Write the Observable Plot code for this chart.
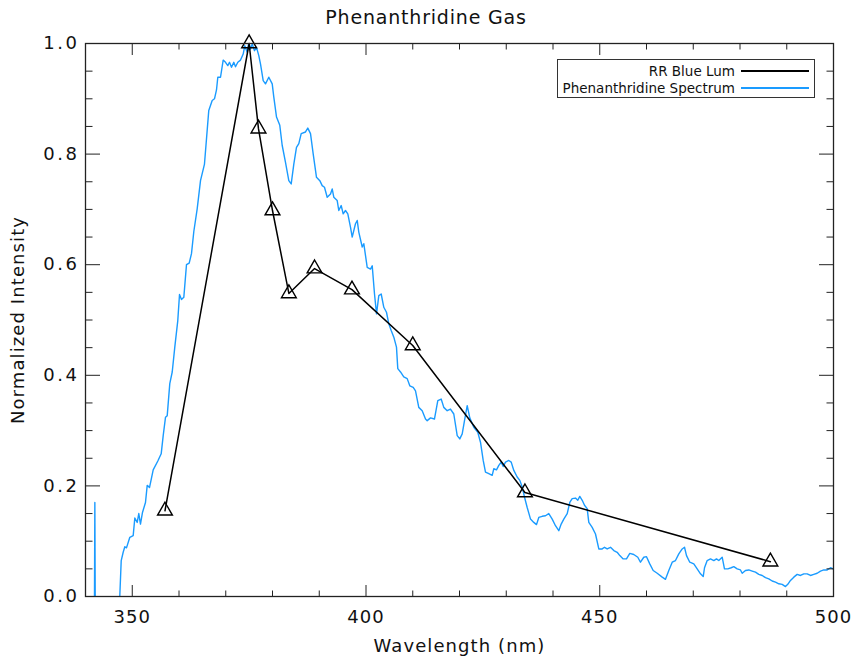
<!DOCTYPE html>
<html>
<head>
<meta charset="utf-8">
<script src="https://cdn.jsdelivr.net/npm/d3@7"></script>
<script src="https://cdn.jsdelivr.net/npm/@observablehq/plot@0.6"></script>
<style>
  body { margin: 0; background: #fff; }
  #wrap { position: relative; width: 852px; height: 656px; font-family: "DejaVu Sans", sans-serif; color: #111; }
  #title { position: absolute; left: 0; top: 6px; width: 852px; text-align: center; font-size: 19px; letter-spacing: 0.8px; }
  #legend { position: absolute; left: 557px; top: 59px; width: 258px; height: 39px; border: 1px solid #333; background: #fff; font-size: 13.5px; box-sizing: border-box; padding-top: 2px; }
  .row { display: flex; align-items: center; height: 17px; }
  .row .lab { width: 177px; text-align: right; white-space: nowrap; }
  .row .sw { margin-left: 6px; width: 68px; height: 0; border-top: 2px solid #000; }
  g[aria-label="x-axis tick label"] text { letter-spacing: 1px; }
  g[aria-label="y-axis tick label"] text { letter-spacing: 2.5px; }
  g[aria-label="x-axis label"] text, g[aria-label="y-axis label"] text { letter-spacing: 1.1px; }
</style>
</head>
<body>
<div id="wrap">
  <div id="chart"></div>
  <div id="title"></div>
  <div id="legend"></div>
</div>
<script>
const chartTitle = "Phenanthridine Gas";
const xLabel = "Wavelength (nm)";
const yLabel = "Normalized Intensity";
const seriesNames = ["RR Blue Lum", "Phenanthridine Spectrum"];
const seriesColors = ["#000000", "#1a9bff"];

// RR Blue Lum (triangles)
const lumWavelength = [357, 375, 377, 380, 383.5, 389, 397, 410, 434, 486.5];
const lumIntensity  = [0.155, 1.0, 0.846, 0.698, 0.548, 0.593, 0.555, 0.454, 0.188, 0.063];

// Phenanthridine spectrum
const specWavelength = [340, 341.9, 342.0, 342.1, 347.2,
  347.34, 347.64, 348.06, 348.41, 348.77, 349.48, 350.20, 350.55, 351.06, 351.40,
  351.76, 352.19, 352.83, 353.20, 353.69, 354.48, 355.47, 356.19, 356.62, 357.11,
  357.48, 358.03, 358.55, 359.10, 359.74, 360.11, 360.53, 361.03, 361.60, 362.18,
  362.67, 363.17, 363.89, 364.60, 365.45, 366.37, 367.10, 367.59, 368.02, 368.30,
  368.88, 369.45, 369.95, 370.44, 370.80, 371.23, 371.72, 372.09, 372.58, 373.16,
  373.73, 374.07, 374.59, 374.93, 375.29, 375.66, 376.15, 376.58, 377.07, 377.43,
  378.01, 378.50, 379.21, 379.94, 380.28, 380.86, 381.56, 382.07, 382.78, 383.49,
  384.00, 384.56, 385.13, 385.63, 386.14, 387.06, 387.55, 388.13, 388.71, 389.41,
  390.12, 390.63, 391.12, 391.70, 392.41, 392.77, 393.11, 393.84, 394.18, 394.69,
  395.12, 395.61, 396.11, 396.68, 397.05, 397.75, 398.12, 398.46, 399.19, 399.53,
  400.26, 400.96, 401.33, 401.82, 402.25, 402.74, 403.25, 403.81, 404.38, 404.88,
  405.39, 405.95, 406.52, 406.80, 407.38, 408.08, 408.81, 409.37, 410.10, 410.59,
  411.29, 412.02, 412.73, 413.09, 413.80, 414.65, 415.36, 416.08, 416.64, 417.37,
  418.07, 418.78, 419.51, 420.06, 420.58, 421.07, 421.65, 422.20, 423.06, 423.91,
  424.49, 425.07, 425.56, 426.27, 426.99, 427.34, 427.91, 428.41, 428.92, 429.35,
  429.84, 430.55, 431.06, 431.62, 432.34, 432.90, 433.41, 433.90, 434.48, 435.19,
  435.89, 436.47, 436.96, 437.69, 438.39, 439.10, 439.83, 440.53, 441.24, 441.75,
  442.31, 443.04, 443.59, 444.10, 444.81, 445.30, 445.73, 446.25, 446.74, 447.31,
  447.66, 448.38, 449.09, 449.80, 450.52, 451.02, 451.59, 452.30, 453.01, 453.73,
  454.29, 455.02, 455.72, 456.43, 457.28, 458.14, 458.71, 459.42, 460.00, 460.70,
  461.43, 462.29, 463.36, 464.06, 464.77, 465.50, 466.20, 466.91, 467.64, 468.13,
  468.56, 469.26, 470.12, 470.84, 471.55, 472.13, 472.41, 472.98, 473.69, 474.40,
  474.97, 475.46, 476.19, 476.68, 477.39, 478.12, 478.67, 479.40, 480.10, 480.47,
  481.17, 481.88, 482.61, 483.31, 484.02, 484.75, 485.45, 486.16, 486.89, 487.59,
  488.30, 489.02, 489.73, 490.22, 490.80, 491.51, 492.23, 492.94, 493.65, 494.37,
  495.08, 495.78, 496.51, 497.22, 497.92, 498.65, 499.35, 499.93];
const specIntensity = [-0.05, -0.05, 0.17, -0.05, -0.05,
  0.002, 0.065, 0.080, 0.090, 0.088, 0.107, 0.110, 0.142, 0.134, 0.150,
  0.131, 0.152, 0.170, 0.201, 0.197, 0.229, 0.245, 0.258, 0.291, 0.324,
  0.327, 0.385, 0.406, 0.451, 0.499, 0.546, 0.537, 0.541, 0.600, 0.603,
  0.620, 0.660, 0.701, 0.752, 0.782, 0.879, 0.897, 0.900, 0.916, 0.939,
  0.939, 0.970, 0.966, 0.960, 0.966, 0.957, 0.966, 0.958, 0.966, 0.970,
  0.981, 0.996, 0.984, 1.002, 0.990, 0.999, 0.987, 0.993, 0.978, 0.963,
  0.933, 0.927, 0.939, 0.927, 0.903, 0.867, 0.852, 0.816, 0.785, 0.752,
  0.746, 0.782, 0.812, 0.819, 0.837, 0.840, 0.847, 0.837, 0.800, 0.758,
  0.752, 0.743, 0.740, 0.722, 0.728, 0.737, 0.722, 0.716, 0.698, 0.707,
  0.692, 0.698, 0.692, 0.668, 0.650, 0.674, 0.680, 0.659, 0.632, 0.638,
  0.595, 0.592, 0.598, 0.547, 0.511, 0.544, 0.547, 0.523, 0.514, 0.493,
  0.481, 0.469, 0.451, 0.412, 0.406, 0.397, 0.394, 0.381, 0.378, 0.372,
  0.342, 0.336, 0.321, 0.318, 0.323, 0.321, 0.354, 0.357, 0.342, 0.336,
  0.339, 0.330, 0.291, 0.285, 0.294, 0.318, 0.345, 0.323, 0.306, 0.297,
  0.279, 0.246, 0.225, 0.222, 0.219, 0.231, 0.229, 0.237, 0.243, 0.235,
  0.243, 0.246, 0.243, 0.228, 0.216, 0.210, 0.198, 0.180, 0.161, 0.140,
  0.134, 0.130, 0.143, 0.145, 0.146, 0.150, 0.140, 0.128, 0.119, 0.131,
  0.140, 0.150, 0.170, 0.177, 0.178, 0.174, 0.181, 0.174, 0.165, 0.159,
  0.134, 0.125, 0.113, 0.086, 0.086, 0.089, 0.086, 0.089, 0.083, 0.080,
  0.074, 0.068, 0.068, 0.078, 0.076, 0.071, 0.062, 0.071, 0.072, 0.059,
  0.047, 0.042, 0.035, 0.031, 0.047, 0.062, 0.065, 0.077, 0.086, 0.089,
  0.074, 0.062, 0.059, 0.050, 0.041, 0.036, 0.052, 0.065, 0.068, 0.065,
  0.068, 0.065, 0.071, 0.050, 0.050, 0.052, 0.054, 0.050, 0.048, 0.042,
  0.047, 0.048, 0.046, 0.044, 0.040, 0.038, 0.034, 0.032, 0.028, 0.026,
  0.023, 0.022, 0.018, 0.022, 0.029, 0.035, 0.040, 0.038, 0.041, 0.041,
  0.038, 0.040, 0.042, 0.046, 0.048, 0.048, 0.052, 0.050];

const xDomain = [340, 500];
const yDomain = [0, 1];
const xMajorTicks = [350, 400, 450, 500];
const xMinorTicks = [340, 360, 370, 380, 390, 410, 420, 430, 440, 460, 470, 480, 490];
const yMajorTicks = [0, 0.2, 0.4, 0.6, 0.8, 1.0];
const yMinorTicks = [0.05, 0.1, 0.15, 0.25, 0.3, 0.35, 0.45, 0.5, 0.55, 0.65, 0.7, 0.75, 0.85, 0.9, 0.95];

const lum = lumWavelength.map((w, i) => ({w, v: lumIntensity[i]}));
const spec = specWavelength.map((w, i) => ({w, v: specIntensity[i]}));
const none = () => "";

const plot = Plot.plot({
  width: 852,
  height: 656,
  marginTop: 43,
  marginLeft: 85,
  marginRight: 19,
  marginBottom: 60,
  style: {fontFamily: "DejaVu Sans, sans-serif", fontSize: "18px", color: "#111", background: "white"},
  x: {domain: xDomain},
  y: {domain: yDomain},
  marks: [
    Plot.line(spec, {x: "w", y: "v", stroke: seriesColors[1], strokeWidth: 1.4, clip: true}),
    Plot.line(lum, {x: "w", y: "v", stroke: seriesColors[0], strokeWidth: 1.5}),
    Plot.dot(lum, {x: "w", y: "v", symbol: "triangle", r: 5.5, stroke: seriesColors[0], strokeWidth: 1.4, fill: "none"}),
    Plot.frame({stroke: "#222", strokeWidth: 1.3}),
    // inward ticks on all four sides
    Plot.axisX({anchor: "bottom", ticks: xMajorTicks, tickSize: -11, tickFormat: none, label: null, stroke: "#222"}),
    Plot.axisX({anchor: "bottom", ticks: xMinorTicks, tickSize: -5.5, tickFormat: none, label: null, stroke: "#222"}),
    Plot.axisX({anchor: "top", ticks: xMajorTicks, tickSize: -11, tickFormat: none, label: null, stroke: "#222"}),
    Plot.axisX({anchor: "top", ticks: xMinorTicks, tickSize: -5.5, tickFormat: none, label: null, stroke: "#222"}),
    Plot.axisY({anchor: "left", ticks: yMajorTicks, tickSize: -15, tickFormat: none, label: null, stroke: "#222"}),
    Plot.axisY({anchor: "left", ticks: yMinorTicks, tickSize: -7.5, tickFormat: none, label: null, stroke: "#222"}),
    Plot.axisY({anchor: "right", ticks: yMajorTicks, tickSize: -15, tickFormat: none, label: null, stroke: "#222"}),
    Plot.axisY({anchor: "right", ticks: yMinorTicks, tickSize: -7.5, tickFormat: none, label: null, stroke: "#222"}),
    // labels
    Plot.axisX({anchor: "bottom", ticks: xMajorTicks, tickSize: 0, tickPadding: 14, tickFormat: d3.format("d"),
      label: xLabel, labelAnchor: "center", labelOffset: 55, labelArrow: "none"}),
    Plot.axisY({anchor: "left", ticks: yMajorTicks, tickSize: 0, tickPadding: 6, tickFormat: d3.format(".1f"),
      label: yLabel, labelAnchor: "center", labelOffset: 74, labelArrow: "none"})
  ]
});
document.getElementById("chart").appendChild(plot);
document.getElementById("title").textContent = chartTitle;

const legend = document.getElementById("legend");
seriesNames.forEach((name, i) => {
  const row = document.createElement("div");
  row.className = "row";
  const lab = document.createElement("span");
  lab.className = "lab";
  lab.textContent = name;
  const sw = document.createElement("span");
  sw.className = "sw";
  sw.style.borderTopColor = seriesColors[i];
  row.appendChild(lab);
  row.appendChild(sw);
  legend.appendChild(row);
});
</script>
</body>
</html>
